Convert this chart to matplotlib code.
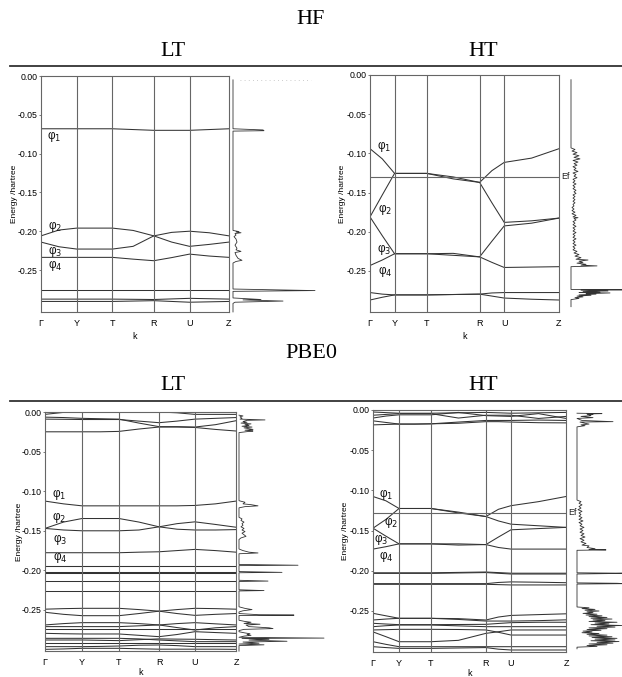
import matplotlib
matplotlib.use("Agg")
import matplotlib.pyplot as plt
from matplotlib.lines import Line2D

# ---------------- data ----------------
kpt_labels = ["Γ", "Y", "T", "R", "U", "Z"]
energy_ticks = [0.00, -0.05, -0.10, -0.15, -0.20, -0.25]

# k node positions (fraction of path) for each panel
hf_lt_kpos = [0, 0.19, 0.38, 0.60, 0.79, 1.0]
hf_ht_kpos = [0, 0.13, 0.30, 0.58, 0.71, 1.0]
pbe_lt_kpos = [0, 0.194, 0.387, 0.597, 0.785, 1.0]
pbe_ht_kpos = [0, 0.135, 0.30, 0.585, 0.715, 1.0]

# bands: 6 values (at nodes) or 11 values (nodes + segment middles)
hf_lt_bands = [
    [-0.068, -0.068, -0.068, -0.070, -0.070, -0.068],
    [-0.206, -0.1985, -0.196, -0.196, -0.196, -0.199, -0.206, -0.214, -0.2195, -0.217, -0.214],
    [-0.214, -0.220, -0.223, -0.223, -0.223, -0.2195, -0.206, -0.2015, -0.200, -0.202, -0.206],
    [-0.2337, -0.2337, -0.2337, -0.2337, -0.2337, -0.236, -0.238, -0.234, -0.2295, -0.232, -0.2337],
    [-0.2755, -0.2755, -0.2755, -0.2755, -0.2755, -0.2755],
    [-0.2875, -0.2875, -0.2875, -0.288, -0.2865, -0.2875],
    [-0.2905, -0.2905, -0.2905, -0.2895, -0.2915, -0.2905],
]

hf_ht_bands = [
    [-0.094, -0.107, -0.1255, -0.1255, -0.1255, -0.130, -0.137, -0.122, -0.1115, -0.106, -0.094],
    [-0.181, -0.153, -0.1255, -0.1255, -0.1255, -0.1325, -0.137, -0.163, -0.188, -0.186, -0.1825],
    [-0.181, -0.205, -0.228, -0.228, -0.228, -0.2275, -0.232, -0.212, -0.1925, -0.189, -0.1825],
    [-0.243, -0.236, -0.228, -0.228, -0.228, -0.2300, -0.232, -0.239, -0.2455, -0.245, -0.2445],
    [-0.2775, -0.2795, -0.2805, -0.2805, -0.2805, -0.280, -0.2795, -0.278, -0.2775, -0.2775, -0.2775],
    [-0.287, -0.2835, -0.2805, -0.2805, -0.2805, -0.280, -0.2795, -0.282, -0.2845, -0.286, -0.287],
]

pbe_lt_bands = [
    [-0.003, -0.0005, 0.0, 0.0, 0.0, 0.0, 0.0, -0.001, -0.003, -0.003, -0.003],
    [-0.0065, -0.007, -0.008, -0.0085, -0.009, -0.014, -0.0185, -0.0185, -0.019, -0.016, -0.011],
    [-0.009, -0.0092, -0.0095, -0.0095, -0.0095, -0.0115, -0.0135, -0.0115, -0.009, -0.008, -0.007],
    [-0.025, -0.025, -0.025, -0.025, -0.0245, -0.0215, -0.019, -0.019, -0.0195, -0.022, -0.024],
    [-0.1125, -0.116, -0.1185, -0.1185, -0.1185, -0.1185, -0.1185, -0.1185, -0.118, -0.116, -0.1125],
    [-0.147, -0.139, -0.1345, -0.1345, -0.1345, -0.139, -0.145, -0.141, -0.1387, -0.142, -0.1455],
    [-0.147, -0.149, -0.150, -0.150, -0.150, -0.149, -0.145, -0.148, -0.149, -0.149, -0.1485],
    [-0.1777, -0.1777, -0.1777, -0.1777, -0.1777, -0.177, -0.1765, -0.175, -0.1735, -0.175, -0.177],
    [-0.1940, -0.1940, -0.1940, -0.1940, -0.1940, -0.1940],
    [-0.1948, -0.1948, -0.1948, -0.1948, -0.1948, -0.1948],
    [-0.2022, -0.2022, -0.2022, -0.2022, -0.2022, -0.2022],
    [-0.2030, -0.2030, -0.2030, -0.2030, -0.2030, -0.2030],
    [-0.2135, -0.2135, -0.2135, -0.2135, -0.2135, -0.2135],
    [-0.2255, -0.2255, -0.2255, -0.2255, -0.2255, -0.2255],
    [-0.249, -0.2483, -0.2479, -0.2479, -0.2479, -0.2495, -0.2515, -0.2495, -0.2479, -0.2483, -0.249],
    [-0.2529, -0.2555, -0.2572, -0.2572, -0.2572, -0.2545, -0.2515, -0.2545, -0.2568, -0.2555, -0.2545],
    [-0.2689, -0.2672, -0.266, -0.266, -0.266, -0.2672, -0.2689, -0.2722, -0.2753, -0.2725, -0.271],
    [-0.271, -0.271, -0.271, -0.271, -0.271, -0.270, -0.2689, -0.2672, -0.266, -0.2675, -0.2689],
    [-0.2740, -0.2740, -0.2740, -0.2740, -0.2740, -0.2740],
    [-0.2795, -0.280, -0.2803, -0.2803, -0.2803, -0.282, -0.2837, -0.281, -0.2774, -0.2785, -0.2795],
    [-0.2858, -0.2858, -0.2858, -0.2858, -0.2858, -0.2865, -0.2879, -0.289, -0.290, -0.290, -0.290],
    [-0.2879, -0.2879, -0.2879, -0.2883, -0.2887, -0.2875, -0.2865, -0.2868, -0.287, -0.2875, -0.2879],
    [-0.2921, -0.2921, -0.2921, -0.2921, -0.2921, -0.2921],
    [-0.2963, -0.2963, -0.2963, -0.296, -0.2955, -0.2945, -0.2942, -0.295, -0.2963, -0.2963, -0.2963],
    [-0.2997, -0.2992, -0.2984, -0.2984, -0.2984, -0.299, -0.2995, -0.2995, -0.2995, -0.2995, -0.2997],
]

pbe_ht_bands = [
    [-0.0025, -0.004, -0.004, -0.003, -0.004, -0.003],
    [-0.0065, -0.0055, -0.0045, -0.0045, -0.0045, -0.010, -0.0065, -0.0065, -0.0065, -0.0105, -0.008],
    [-0.010, -0.0075, -0.006, -0.006, -0.006, -0.003, -0.007, -0.0075, -0.008, -0.0045, -0.0105],
    [-0.0135, -0.0155, -0.0175, -0.0175, -0.0172, -0.015, -0.013, -0.013, -0.013, -0.0125, -0.013],
    [-0.0185, -0.018, -0.0175, -0.0175, -0.0172, -0.0165, -0.0145, -0.0145, -0.015, -0.0158, -0.016],
    [-0.1076, -0.113, -0.1225, -0.1225, -0.1225, -0.127, -0.1325, -0.1235, -0.119, -0.114, -0.1076],
    [-0.1470, -0.136, -0.1225, -0.1225, -0.1225, -0.128, -0.1325, -0.138, -0.142, -0.144, -0.146],
    [-0.1470, -0.157, -0.1665, -0.1665, -0.1665, -0.1665, -0.1674, -0.158, -0.149, -0.1475, -0.146],
    [-0.1730, -0.170, -0.1665, -0.1665, -0.1665, -0.168, -0.1674, -0.171, -0.1730, -0.1730, -0.1730],
    [-0.2025, -0.2025, -0.2025, -0.2015, -0.2030, -0.2030],
    [-0.2032, -0.2032, -0.2032, -0.2022, -0.2040, -0.2040],
    [-0.2160, -0.2160, -0.2160, -0.2160, -0.2160, -0.2160, -0.2160, -0.2145, -0.2138, -0.2142, -0.2148],
    [-0.2168, -0.2168, -0.2168, -0.2168, -0.2176, -0.2176],
    [-0.2529, -0.2560, -0.2591, -0.2591, -0.2591, -0.2595, -0.2612, -0.2575, -0.2555, -0.2545, -0.2535],
    [-0.2612, -0.260, -0.2591, -0.2591, -0.2591, -0.2605, -0.2625, -0.2625, -0.2625, -0.262, -0.261],
    [-0.2653, -0.2662, -0.2670, -0.2670, -0.2670, -0.2668, -0.2666, -0.2655, -0.2645, -0.264, -0.264],
    [-0.2695, -0.2683, -0.2674, -0.2674, -0.2674, -0.2685, -0.2695, -0.2695, -0.2695, -0.2695, -0.2695],
    [-0.2736, -0.2732, -0.2728, -0.2728, -0.2728, -0.273, -0.2736, -0.2765, -0.2799, -0.2799, -0.2799],
    [-0.2760, -0.282, -0.2882, -0.2882, -0.2882, -0.2865, -0.2778, -0.2758, -0.2736, -0.2736, -0.2736],
    [-0.2882, -0.2915, -0.2944, -0.2944, -0.2944, -0.2944, -0.2944, -0.2944, -0.2944, -0.2944, -0.2944],
    [-0.2944, -0.2955, -0.2965, -0.2965, -0.2965, -0.2960, -0.2955, -0.2975, -0.2985, -0.2985, -0.2985],
]

# Fermi levels (HT only)
hf_ht_ef = -0.130
pbe_ht_ef = -0.1275

# phi labels: (x fraction, energy)
hf_lt_phi = [(0.032, -0.0786), (0.037, -0.1933), (0.037, -0.2255), (0.037, -0.2448)]
hf_ht_phi = [(0.037, -0.0918), (0.042, -0.172), (0.037, -0.2232), (0.042, -0.251)]
pbe_lt_phi = [(0.037, -0.1048), (0.037, -0.133), (0.040, -0.1616), (0.040, -0.1835)]
pbe_ht_phi = [(0.031, -0.1045), (0.057, -0.140), (0.005, -0.161), (0.031, -0.1816)]

# density of states: (energy, dos)
hf_lt_dos = [
    (-0.005, 0), (-0.068, 0), (-0.0695, 30), (-0.0705, 31), (-0.071, 0),
    (-0.199, 0), (-0.2005, 6), (-0.201, 3), (-0.202, 8), (-0.203, 2), (-0.205, 3),
    (-0.207, 1), (-0.210, 3), (-0.214, 4), (-0.218, 2), (-0.222, 4), (-0.224, 3),
    (-0.226, 8), (-0.2275, 2), (-0.231, 3), (-0.235, 5), (-0.2375, 9), (-0.239, 3),
    (-0.241, 0), (-0.2745, 0), (-0.2765, 82), (-0.2775, 0), (-0.286, 0),
    (-0.288, 28), (-0.2885, 10), (-0.290, 50), (-0.2915, 2), (-0.293, 0), (-0.304, 0),
]

hf_ht_dos = [
    (-0.006, 0), (-0.093, 0), (-0.095, 4), (-0.097, 1), (-0.099, 6), (-0.101, 2),
    (-0.103, 8), (-0.105, 3), (-0.107, 9), (-0.109, 2), (-0.111, 7), (-0.113, 3),
    (-0.115, 6), (-0.117, 2), (-0.119, 5), (-0.121, 3), (-0.123, 7), (-0.125, 2),
    (-0.127, 5), (-0.129, 3), (-0.131, 6), (-0.133, 2), (-0.135, 4), (-0.137, 2),
    (-0.139, 5), (-0.141, 2), (-0.143, 4), (-0.145, 2), (-0.147, 5), (-0.149, 3),
    (-0.151, 5), (-0.153, 2), (-0.155, 4), (-0.157, 2), (-0.159, 4), (-0.161, 2),
    (-0.163, 4), (-0.165, 2), (-0.167, 3), (-0.169, 1), (-0.171, 3), (-0.173, 1),
    (-0.175, 4), (-0.177, 1), (-0.179, 5), (-0.181, 2), (-0.182, 7), (-0.183, 3),
    (-0.185, 5), (-0.187, 2), (-0.189, 4), (-0.191, 2), (-0.193, 5), (-0.195, 2),
    (-0.197, 4), (-0.199, 2), (-0.201, 5), (-0.203, 2), (-0.205, 4), (-0.207, 2),
    (-0.209, 5), (-0.211, 2), (-0.213, 4), (-0.215, 2), (-0.217, 5), (-0.219, 2),
    (-0.221, 4), (-0.223, 2), (-0.225, 6), (-0.227, 3), (-0.229, 8), (-0.231, 4),
    (-0.233, 10), (-0.235, 5), (-0.236, 17), (-0.2375, 8), (-0.239, 12), (-0.240, 6),
    (-0.2415, 15), (-0.2425, 10), (-0.2435, 26), (-0.2445, 0),
    (-0.2735, 0), (-0.274, 55), (-0.2745, 10), (-0.2755, 37), (-0.276, 12),
    (-0.277, 29), (-0.2775, 8), (-0.278, 39), (-0.279, 15), (-0.2795, 25),
    (-0.2805, 8), (-0.281, 20), (-0.282, 6), (-0.283, 12), (-0.284, 4),
    (-0.285, 8), (-0.2865, 0), (-0.2955, 0),
]

pbe_lt_dos = [
    (-0.004, 0), (-0.005, 4), (-0.006, 1), (-0.008, 3), (-0.009, 1), (-0.010, 26),
    (-0.0105, 8), (-0.012, 4), (-0.013, 8), (-0.014, 2), (-0.015, 12), (-0.016, 6),
    (-0.017, 10), (-0.018, 3), (-0.019, 13), (-0.020, 5), (-0.022, 14), (-0.023, 6),
    (-0.024, 14), (-0.0245, 10), (-0.026, 0),
    (-0.112, 0), (-0.114, 6), (-0.116, 4), (-0.117, 12), (-0.1185, 19), (-0.1195, 6), (-0.121, 0),
    (-0.133, 0), (-0.135, 3), (-0.137, 2), (-0.139, 5), (-0.141, 3), (-0.143, 4),
    (-0.145, 2), (-0.147, 5), (-0.149, 3), (-0.151, 6), (-0.153, 3), (-0.155, 5),
    (-0.157, 7), (-0.159, 2), (-0.161, 0),
    (-0.173, 0), (-0.175, 4), (-0.177, 10), (-0.178, 19), (-0.179, 0),
    (-0.1925, 0), (-0.1935, 59), (-0.194, 0),
    (-0.2015, 0), (-0.2025, 43), (-0.203, 0),
    (-0.2125, 0), (-0.2135, 29), (-0.214, 0),
    (-0.2245, 0), (-0.2255, 25), (-0.226, 0),
    (-0.246, 0), (-0.248, 6), (-0.2495, 13), (-0.251, 4), (-0.2525, 0),
    (-0.2545, 0), (-0.256, 20), (-0.2565, 55), (-0.257, 0),
    (-0.263, 0), (-0.2645, 6), (-0.2655, 12), (-0.267, 5), (-0.268, 21), (-0.269, 7),
    (-0.271, 10), (-0.2725, 30), (-0.2735, 34), (-0.2745, 5), (-0.276, 0),
    (-0.2775, 0), (-0.279, 6), (-0.280, 11), (-0.281, 8), (-0.282, 12), (-0.283, 5),
    (-0.2845, 0), (-0.2855, 85), (-0.286, 3), (-0.287, 30), (-0.288, 10),
    (-0.2895, 48), (-0.2905, 4), (-0.292, 20), (-0.293, 0), (-0.294, 25), (-0.295, 0),
    (-0.302, 0),
]

pbe_ht_dos = [
    (-0.004, 0), (-0.0045, 25), (-0.005, 10), (-0.0055, 16), (-0.006, 12), (-0.007, 14),
    (-0.008, 4), (-0.0095, 16), (-0.0105, 0), (-0.013, 5), (-0.0145, 36), (-0.015, 3),
    (-0.0165, 8), (-0.0175, 12), (-0.0185, 4), (-0.0195, 8), (-0.021, 0),
    (-0.112, 0), (-0.114, 4), (-0.116, 2), (-0.118, 5), (-0.120, 2), (-0.122, 4),
    (-0.124, 1), (-0.126, 5), (-0.128, 2), (-0.130, 4), (-0.132, 2), (-0.134, 5),
    (-0.136, 2), (-0.138, 6), (-0.140, 2), (-0.142, 5), (-0.144, 3), (-0.146, 7),
    (-0.148, 3), (-0.150, 6), (-0.152, 3), (-0.154, 7), (-0.156, 4), (-0.158, 8),
    (-0.160, 3), (-0.162, 7), (-0.164, 4), (-0.166, 9), (-0.168, 5), (-0.169, 12),
    (-0.171, 10), (-0.1725, 18), (-0.1735, 12), (-0.174, 29), (-0.1745, 0),
    (-0.2025, 0), (-0.203, 48), (-0.2035, 30), (-0.204, 0),
    (-0.215, 0), (-0.2155, 40), (-0.216, 48), (-0.2165, 0),
    (-0.245, 0), (-0.246, 12), (-0.247, 5), (-0.248, 18), (-0.249, 8), (-0.250, 22),
    (-0.251, 10), (-0.252, 16), (-0.253, 6), (-0.254, 20), (-0.255, 9), (-0.256, 25),
    (-0.257, 12), (-0.258, 30), (-0.259, 14), (-0.260, 35), (-0.261, 16), (-0.262, 28),
    (-0.263, 12), (-0.264, 40), (-0.265, 18), (-0.266, 32), (-0.267, 14), (-0.268, 45),
    (-0.269, 20), (-0.270, 38), (-0.271, 12), (-0.272, 30), (-0.273, 10), (-0.274, 24),
    (-0.275, 6), (-0.276, 15), (-0.277, 5), (-0.278, 22), (-0.279, 10), (-0.280, 30),
    (-0.281, 12), (-0.282, 35), (-0.283, 15), (-0.284, 40), (-0.285, 18), (-0.286, 38),
    (-0.287, 14), (-0.288, 42), (-0.289, 20), (-0.290, 36), (-0.291, 12), (-0.292, 30),
    (-0.293, 10), (-0.294, 20), (-0.295, 0), (-0.297, 0),
]

# ---------------- drawing ----------------
W, H = 622, 677
fig = plt.figure(figsize=(W / 100, H / 100), dpi=100)
fig.patch.set_facecolor("white")

band_col = "#333333"
frame_col = "#666666"
sans = "Liberation Sans"
serif = "Liberation Serif"


def px_axes(x0, y0, x1, y1):
    return fig.add_axes([x0 / W, 1 - y1 / H, (x1 - x0) / W, (y1 - y0) / H])


def band_k(kpos, n):
    if n == len(kpos):
        return kpos
    k = []
    for i in range(len(kpos) - 1):
        k.append(kpos[i])
        k.append((kpos[i] + kpos[i + 1]) / 2)
    k.append(kpos[-1])
    return k


def band_panel(box, ymin, kpos, bands, phis, ylab_off, kpad, ef=None):
    ax = px_axes(*box)
    ax.set_xlim(0, 1)
    ax.set_ylim(ymin, 0)
    for b in bands:
        ax.plot(band_k(kpos, len(b)), b, color=band_col, lw=0.75)
    for k in kpos[1:-1]:
        ax.axvline(k, color=frame_col, lw=0.8)
    if ef is not None:
        ax.axhline(ef, color=frame_col, lw=0.8)
        ax.text(1.012, ef, "Ef", fontsize=6.5, family=sans, ha="left",
                va="center", transform=ax.get_yaxis_transform(), color="#222")
    for i, (x, e) in enumerate(phis):
        ax.text(x, e, "φ$_%d$" % (i + 1), fontsize=8.5, family=sans,
                ha="left", va="center", color="#111")
    for s in ax.spines.values():
        s.set_color(frame_col)
        s.set_linewidth(0.8)
    ax.set_yticks(energy_ticks)
    ax.set_yticklabels(["%.2f" % t for t in energy_ticks], fontsize=6.3, family=sans)
    ax.set_xticks(kpos)
    ax.set_xticklabels(kpt_labels, fontsize=6.5, family=sans)
    ax.tick_params(axis="y", length=1.5, width=0.6, pad=0.8, color=frame_col)
    ax.tick_params(axis="x", length=0, pad=5)
    ax.set_xlabel("k", fontsize=6.5, family=sans, labelpad=kpad)
    ax.set_ylabel("Energy /hartree", fontsize=6, family=sans)
    ax.yaxis.set_label_coords(-ylab_off / (box[2] - box[0]), 0.5)
    return ax


def dos_panel(box, ymin, dos):
    ax = px_axes(*box)
    ax.set_xlim(0, box[2] - box[0])
    ax.set_ylim(ymin, 0)
    ax.axis("off")
    e = [p[0] for p in dos]
    v = [p[1] for p in dos]
    ax.plot(v, e, color=band_col, lw=0.6, clip_on=False)
    return ax


# HF LT
band_panel((41, 76, 229, 312), -0.3041, hf_lt_kpos, hf_lt_bands, hf_lt_phi, 23, 3)
d = dos_panel((233, 76, 322, 312), -0.3041, hf_lt_dos)
d.axhline(-0.005, xmin=0.08, xmax=0.88, color="#bbbbbb", lw=0.6, ls=(0, (1, 4)))

# HF HT
band_panel((370, 75, 559, 312), -0.3023, hf_ht_kpos, hf_ht_bands, hf_ht_phi, 24, 3, ef=hf_ht_ef)
dos_panel((571, 75, 622, 312), -0.3023, hf_ht_dos)

# PBE0 LT
band_panel((45, 412, 236, 651), -0.3018, pbe_lt_kpos, pbe_lt_bands, pbe_lt_phi, 22, 1)
dos_panel((239, 412, 322, 651), -0.3018, pbe_lt_dos)

# PBE0 HT
band_panel((373, 410, 566, 652), -0.3010, pbe_ht_kpos, pbe_ht_bands, pbe_ht_phi, 24, 0.5, ef=pbe_ht_ef)
dos_panel((577, 410, 622, 652), -0.3010, pbe_ht_dos)


# titles and rules
def ftext(x, y, s, size):
    fig.text(x / W, 1 - y / H, s, fontsize=size, family=serif, ha="center", va="center")


ftext(311, 20, "HF", 16)
ftext(173, 52, "LT", 16)
ftext(483, 52, "HT", 16)
ftext(311, 353, "PBE0", 16)
ftext(173, 386, "LT", 16)
ftext(483, 386, "HT", 16)
for yr in (65.5, 401):
    fig.add_artist(Line2D([10 / W, 1.0], [1 - yr / H, 1 - yr / H],
                          transform=fig.transFigure, color="#333333", lw=1.3))

fig.savefig("out.png", dpi=100)
